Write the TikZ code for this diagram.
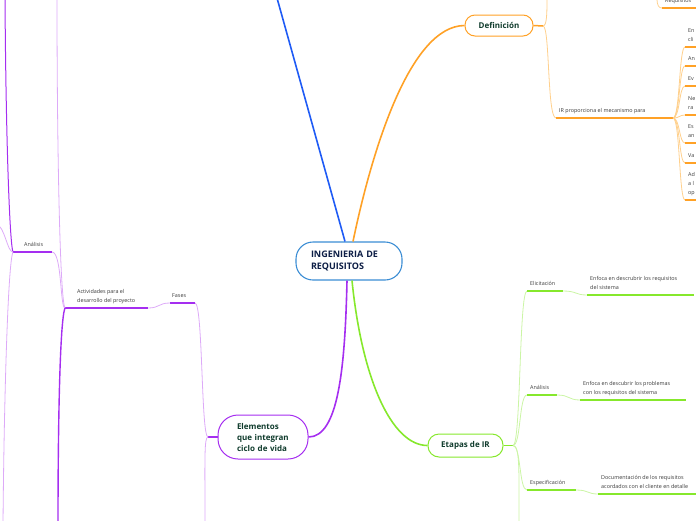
\documentclass[tikz,border=0pt]{standalone}
\usepackage{fontspec}
\setmainfont{Open Sans}
\definecolor{cBlue}{HTML}{1F5BF5}
\definecolor{cRoot}{HTML}{3B8DD4}
\definecolor{cNavy}{HTML}{0C1D45}
\definecolor{cOrange}{HTML}{FFA126}
\definecolor{cOrangeL}{HTML}{FFD08C}
\definecolor{cGreen}{HTML}{86E82C}
\definecolor{cGreenL}{HTML}{CBF5A5}
\definecolor{cPurple}{HTML}{A52EF0}
\definecolor{cPurpleL}{HTML}{DDAAF8}
\definecolor{cTopic}{HTML}{0F3B2C}
\definecolor{cLabel}{HTML}{3A3A3A}
\tikzset{
  rootbox/.style={draw=cRoot, fill=white, line width=1.1pt, rounded corners=17pt,
    minimum width=106pt, minimum height=38pt, text width=76pt, align=left,
    inner sep=0pt, text=cNavy, font=\bfseries\fontsize{9}{13}\selectfont},
  topicbox/.style={fill=white, line width=1pt, text=cTopic, inner sep=0pt,
    font=\bfseries\fontsize{8}{11}\selectfont},
  lbl/.style={font=\fontsize{5.4}{8.7}\selectfont, text=cLabel, inner sep=0pt,
    align=left, anchor=south west},
  mainline/.style={line width=1.6pt},
  uline/.style={line width=1.5pt},
  thinline/.style={line width=0.8pt},
}
\begin{document}
\begin{tikzpicture}[x=1pt,y=-1pt]
\useasboundingbox (0,0) rectangle (696,520);
\clip (0,0) rectangle (696,520);

% ---------- main nodes ----------
\node[rootbox] (root) at (349,261) {INGENIERIA DE\\REQUISITOS};
\node[topicbox, draw=cOrange, minimum width=68pt, minimum height=21pt, rounded corners=10pt] (def) at (499,25.5) {Definición};
\node[topicbox, draw=cGreen, minimum width=75pt, minimum height=23pt, rounded corners=11pt] (etapas) at (465.5,445.5) {Etapas de IR};
\node[topicbox, draw=cPurple, minimum width=90pt, minimum height=44pt, rounded corners=20pt, text width=52pt, align=left] (elem) at (263,437) {Elementos\\que integran\\ciclo de vida};

% ---------- blue branch ----------
\coordinate (bluetop) at (277,-2);
\draw[cBlue, mainline] ([xshift=-4pt]root.north) -- (bluetop);

% ---------- orange branch ----------
\draw[cOrange, mainline] ([xshift=4pt]root.north) .. controls (372,150) and (410,26) .. (def.west);
\coordinate (dj) at (543,26);
\coordinate (dup) at (547,-2);
\coordinate (ir1) at (556,118);
\coordinate (ir2) at (673,118);
\draw[cOrange, uline] (def.east) -- (dj);
\draw[cOrangeL, thinline] (dj) .. controls (547,26) and (547,12) .. (dup);
\draw[cOrangeL, thinline] (dj) .. controls (550,26) and (547,118) .. (ir1);
\draw[cOrange, uline] (ir1) -- (ir2);
\node[lbl] (irt) at (559,115) {IR proporciona el mecanismo para\strut};

\coordinate (rqtop) at (657,-2);
\coordinate (rq1) at (662,8);
\coordinate (rq2) at (697,8);
\draw[cOrangeL, thinline] (rqtop) .. controls (657,6) and (659,8) .. (rq1);
\draw[cOrange, uline] (rq1) -- (rq2);
\node[lbl] (rqt) at (665,5) {Requisitos\strut};

\foreach \n/\yy in {1/47,2/66,3/86,4/115,5/143,6/163,7/200}{
  \coordinate (i\n a) at (685,\yy);
  \coordinate (i\n b) at (697,\yy);
  \draw[cOrangeL, thinline] (ir2) .. controls (680,118) and (679,\yy) .. (i\n a);
  \draw[cOrange, uline] (i\n a) -- (i\n b);
}
\node[lbl] (t1) at (688,44) {En\strut\\cli\strut};
\node[lbl] (t2) at (688,63) {An\strut};
\node[lbl] (t3) at (688,83) {Ev\strut};
\node[lbl] (t4) at (688,112) {Ne\strut\\ra\strut};
\node[lbl] (t5) at (688,140) {Es\strut\\an\strut};
\node[lbl] (t6) at (688,160) {Va\strut};
\node[lbl] (t7) at (688,197) {Ad\strut\\a l\strut\\op\strut};

% ---------- green branch ----------
\draw[cGreen, mainline] ([xshift=3pt]root.south) .. controls (362,380) and (392,445.5) .. (etapas.west);
\coordinate (ej) at (513,445.5);
\draw[cGreen, uline] (etapas.east) -- (ej);

\coordinate (el1) at (527,291);
\coordinate (el2) at (563,291);
\coordinate (ec1) at (587,295);
\coordinate (ec2) at (694,295);
\draw[cGreenL, thinline] (ej) .. controls (521,445.5) and (519,291) .. (el1);
\draw[cGreen, uline] (el1) -- (el2);
\draw[cGreenL, thinline] (el2) .. controls (577,291) and (575,295) .. (ec1);
\draw[cGreen, uline] (ec1) -- (ec2);
\node[lbl] (elt) at (530,288) {Elicitación\strut};
\node[lbl] (ect) at (590,292) {Enfoca en descrubrir los requisitos\strut\\del sistema\strut};

\coordinate (an1) at (527,395);
\coordinate (an2) at (557,395);
\coordinate (ac1) at (580,400);
\coordinate (ac2) at (686,400);
\draw[cGreenL, thinline] (ej) .. controls (521,445.5) and (519,395) .. (an1);
\draw[cGreen, uline] (an1) -- (an2);
\draw[cGreenL, thinline] (an2) .. controls (570,395) and (568,400) .. (ac1);
\draw[cGreen, uline] (ac1) -- (ac2);
\node[lbl] (ant) at (530,392) {Análisis\strut};
\node[lbl] (act) at (583,397) {Enfoca en descubrir los problemas\strut\\con los requisitos del sistema\strut};

\coordinate (es1) at (527,490);
\coordinate (es2) at (576,490);
\coordinate (sc1) at (598,494);
\coordinate (sc2) at (697,494);
\draw[cGreenL, thinline] (ej) .. controls (521,445.5) and (519,490) .. (es1);
\draw[cGreen, uline] (es1) -- (es2);
\draw[cGreenL, thinline] (es2) .. controls (589,490) and (587,494) .. (sc1);
\draw[cGreen, uline] (sc1) -- (sc2);
\node[lbl] (est) at (530,487) {Especificación\strut};
\node[lbl] (sct) at (601,491) {Documentación de los requisitos\strut\\acordados con el cliente en detalle\strut};

\coordinate (ebot) at (519,525);
\draw[cGreenL, thinline] (ej) .. controls (520,445.5) and (519,470) .. (ebot);

% ---------- purple branch ----------
\draw[cPurple, mainline] ([xshift=-2pt]root.south) .. controls (345,370) and (338,437) .. (elem.east);
\coordinate (pj) at (208,437);
\draw[cPurple, uline] (elem.west) -- (pj);

\coordinate (f1) at (170,303);
\coordinate (f2) at (195,303);
\coordinate (pbot) at (205,525);
\draw[cPurpleL, thinline] (f2) .. controls (203,303) and (201,437) .. (pj);
\draw[cPurpleL, thinline] (pj) .. controls (204,437) and (205,460) .. (pbot);
\draw[cPurple, uline] (f1) -- (f2);
\node[lbl] (ft) at (172,300) {Fases\strut};

\coordinate (a1) at (65,308);
\coordinate (a2) at (148,308);
\draw[cPurpleL, thinline] (a2) .. controls (160,308) and (158,303) .. (f1);
\draw[cPurple, uline] (a1) -- (a2);
\node[lbl] (at) at (77,305) {Actividades para el\strut\\desarrollo del proyecto\strut};

\coordinate (n1) at (13,252);
\coordinate (n2) at (52,252);
\coordinate (aup) at (57,-2);
\coordinate (adown) at (58,525);
\coordinate (nup) at (5,-2);
\coordinate (nleft) at (-4,224);
\coordinate (ndown) at (3,525);
\draw[cPurpleL, thinline] (n2) .. controls (62,252) and (60,308) .. (a1);
\draw[cPurple, uline] (n1) -- (n2);
\node[lbl] (nt) at (24,249) {Análisis\strut};
\draw[cPurpleL, thinline] (aup) .. controls (57,150) and (60,300) .. (a1);
\draw[cPurple, line width=1.4pt] (a1) .. controls (60,320) and (58,420) .. (adown);
\draw[cPurple, line width=1pt] (nup) .. controls (6,150) and (10,245) .. (n1);
\draw[cPurpleL, thinline] (nleft) .. controls (5,226) and (7,252) .. (n1);
\draw[cPurpleL, thinline] (n1) .. controls (8,262) and (4,400) .. (ndown);
\end{tikzpicture}
\end{document}
